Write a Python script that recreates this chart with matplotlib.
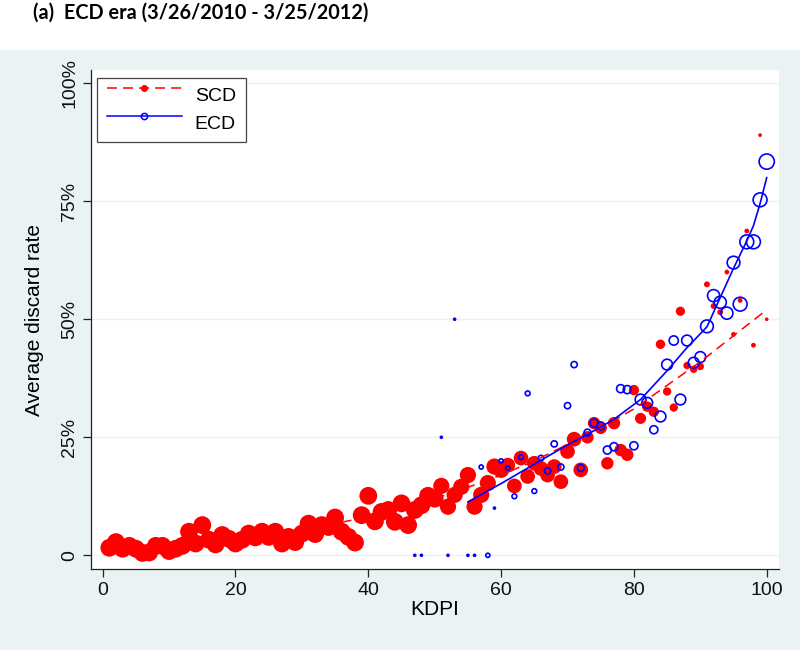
import numpy as np
import matplotlib

matplotlib.use("Agg")
import matplotlib.pyplot as plt
from matplotlib.lines import Line2D
from matplotlib.patches import Rectangle
from matplotlib.legend_handler import HandlerLine2D
from matplotlib.ticker import FixedLocator, FuncFormatter

# SCD: average discard rate (%) by KDPI, marker weight ~ number of kidneys
scd_kdpi = list(range(1, 101))
scd_rate = [
    1.6, 2.8, 1.4, 2.0, 1.4, 0.5, 0.6, 2.0, 2.0, 0.9,
    1.4, 2.0, 5.0, 2.5, 6.4, 3.3, 2.3, 4.3, 3.5, 2.5,
    3.3, 4.6, 3.8, 5.0, 3.9, 5.0, 2.5, 3.9, 2.8, 4.6,
    6.7, 4.5, 6.4, 6.0, 8.0, 5.0, 3.9, 2.7, 8.5, 12.6,
    7.2, 9.2, 9.6, 7.1, 11.0, 6.4, 9.6, 10.6, 12.6, 12.0,
    14.7, 10.3, 12.8, 14.5, 17.0, 10.3, 12.8, 15.3, 18.8, 18.1,
    19.1, 14.7, 20.6, 16.7, 19.5, 18.4, 17.0, 18.8, 15.6, 22.0,
    24.6, 18.1, 25.0, 28.0, 27.0, 19.5, 28.0, 22.3, 21.3, 35.0,
    29.0, 31.5, 30.4, 44.7, 34.7, 31.3, 51.7, 40.2, 39.4, 40.0,
    57.4, 52.8, 51.5, 60.0, 46.8, 54.0, 68.7, 44.5, 89.0, 50.0,
]
scd_weight = [82] * 50 + [68] * 10 + [56] * 12 + [40] * 7 + [
    28, 32, 28, 28, 23, 18, 18, 22, 14, 14,
    14, 9, 9, 9, 6, 6, 6, 6, 6, 3.5, 3.5,
]

# ECD
ecd_kdpi = [47, 48, 51, 52, 53, 55, 56, 57, 58, 59,
            60, 61, 62, 63, 64, 65, 66, 67, 68, 69,
            70, 71, 72, 73, 74, 75, 76, 77, 78, 79,
            80, 81, 82, 83, 84, 85, 86, 87, 88, 89,
            90, 91, 92, 93, 94, 95, 96, 97, 98, 99, 100]
ecd_rate = [0.0, 0.0, 25.0, 0.0, 50.0, 0.0, 0.0, 18.7, 0.0, 10.0,
            20.0, 18.5, 12.5, 20.8, 34.3, 13.6, 20.6, 17.9, 23.6, 18.7,
            31.7, 40.4, 18.5, 26.0, 28.0, 27.4, 22.3, 23.0, 35.3, 35.1,
            23.2, 33.0, 32.3, 26.6, 29.4, 40.4, 45.5, 33.0, 45.5, 40.8,
            42.0, 48.5, 55.0, 53.6, 51.3, 62.0, 53.2, 66.4, 66.4, 75.3, 83.4]
ecd_weight = [1, 1, 1, 1, 1, 1, 1, 4.5, 4.5, 1,
              4.5, 4.5, 6, 6, 6, 6, 8, 10, 10, 10,
              10, 10, 12, 12, 17, 17, 17, 17, 17, 17,
              17, 30, 30, 17, 30, 30, 22, 30, 30, 30,
              30, 42, 38, 38, 38, 42, 50, 50, 50, 50, 60]

# fitted curves
scd_fit_kdpi = [0, 5, 10, 15, 20, 25, 30, 35, 40, 45, 50,
                55, 60, 65, 70, 75, 80, 85, 90, 95, 100]
scd_fit_rate = [1.5, 1.8, 2.3, 2.9, 3.6, 4.5, 5.5, 6.7, 8.2, 10.0, 12.0,
                14.4, 17.0, 20.0, 23.5, 27.0, 31.0, 36.0, 41.0, 46.5, 52.0]
ecd_fit_kdpi = [55, 60, 65, 70, 73, 77, 81, 85, 88, 91, 93, 95, 97, 98, 99, 100]
ecd_fit_rate = [11.3, 15.2, 19.3, 23.4, 25.6, 28.8, 33.0, 39.1, 44.0, 48.4,
                54.6, 60.8, 66.6, 69.8, 74.5, 80.0]

RED = "#FF0000"
BLUE = "#0000FF"
BG = "#EAF2F3"
AXC = "#222222"


class RaisedMarker(HandlerLine2D):
    def create_artists(self, legend, orig_handle, xdescent, ydescent,
                       width, height, fontsize, trans):
        artists = super().create_artists(legend, orig_handle, xdescent, ydescent,
                                         width, height, fontsize, trans)
        marker = artists[-1]
        marker.set_ydata(np.asarray(marker.get_ydata()) + height * 0.45)
        return artists


plt.rcParams["font.family"] = ["Liberation Sans", "DejaVu Sans"]

fig = plt.figure(figsize=(8, 6.5), dpi=100, facecolor="white")
fig.patches.append(Rectangle((0, 0), 1, 600 / 650, transform=fig.transFigure,
                             facecolor=BG, edgecolor="none", zorder=-10))
ax = fig.add_axes([91 / 800, 81 / 650, 688 / 800, 499 / 650])
ax.set_facecolor("white")

ax.scatter(scd_kdpi, scd_rate, s=np.array(scd_weight) * 2, color=RED,
           edgecolors="none", zorder=2)
ax.scatter(ecd_kdpi, ecd_rate, s=np.array(ecd_weight) * 2, facecolors="none",
           edgecolors=BLUE, linewidths=1.2, zorder=3)
ax.plot(scd_fit_kdpi, scd_fit_rate, color=RED, lw=1.1, ls=(0, (6.5, 4)), zorder=4)
ax.plot(ecd_fit_kdpi, ecd_fit_rate, color=BLUE, lw=1.2, zorder=5)

ax.set_xlim(-1.76, 101.85)
ax.set_ylim(-2.9, 102.8)
ax.xaxis.set_major_locator(FixedLocator([0, 20, 40, 60, 80, 100]))
ax.yaxis.set_major_locator(FixedLocator([0, 25, 50, 75, 100]))
ax.yaxis.set_major_formatter(FuncFormatter(lambda v, p: "0" if v == 0 else f"{v:.0f}%"))
ax.grid(True, axis="y", color=BG, lw=1.0, zorder=0)
ax.set_axisbelow(True)

for side in ["top", "right"]:
    ax.spines[side].set_visible(False)
for side in ["left", "bottom"]:
    ax.spines[side].set_color(AXC)
    ax.spines[side].set_linewidth(0.9)
ax.tick_params(axis="both", length=5.8, width=0.9, color=AXC, labelsize=14,
               labelcolor="#111111")
ax.tick_params(axis="x", pad=3.5)
ax.tick_params(axis="y", pad=3.5, labelrotation=90)
for lab in ax.get_yticklabels():
    lab.set_va("center")

ax.set_xlabel("KDPI", fontsize=15, labelpad=1)
ax.set_ylabel("Average discard rate", fontsize=15, labelpad=12)

h_scd = Line2D([], [], color=RED, lw=1.1, ls=(0, (6.5, 4)), marker="o",
               markersize=4, markerfacecolor=RED, markeredgecolor=RED)
h_ecd = Line2D([], [], color=BLUE, lw=1.1, marker="o", markersize=4.5,
               markerfacecolor="none", markeredgecolor=BLUE, markeredgewidth=1.1)
leg = ax.legend([h_scd, h_ecd], ["SCD", "ECD"], loc="upper left",
                bbox_to_anchor=(0.0087, 0.984), borderaxespad=0, fontsize=14,
                handlelength=3.86, handletextpad=0.67, borderpad=0.5,
                labelspacing=0.5, fancybox=False, framealpha=1,
                edgecolor="#444444",
                handler_map={Line2D: RaisedMarker(numpoints=1)})
leg.get_frame().set_linewidth(0.9)

fig.text(33 / 800, 1 - 13 / 650, "(a)  ECD era (3/26/2010 - 3/25/2012)",
         fontsize=14.3, fontweight="bold", family=["Lato", "DejaVu Sans"],
         ha="left", va="center")

fig.savefig("out.png", dpi=100, facecolor=fig.get_facecolor())
